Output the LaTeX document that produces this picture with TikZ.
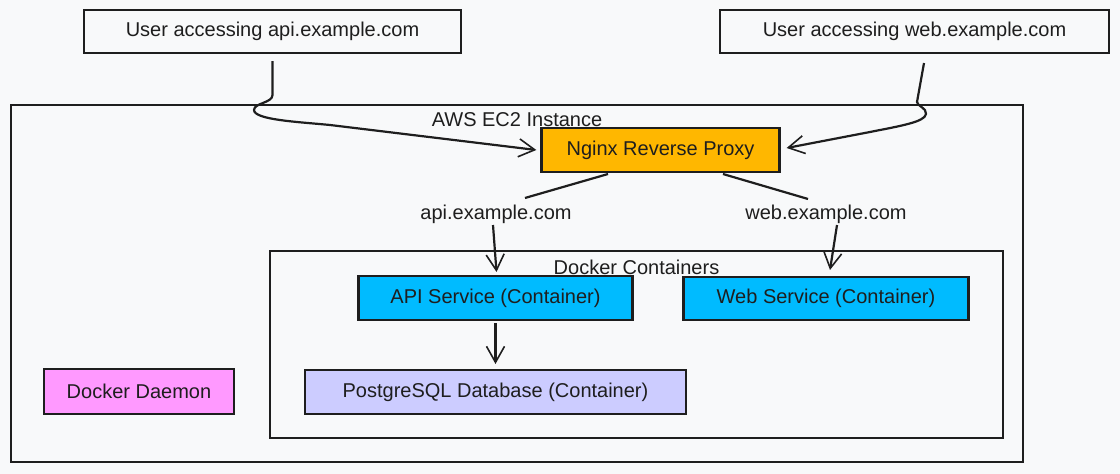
\documentclass[tikz,border=0pt]{standalone}
\usepackage{fontspec}
\setmainfont{Liberation Sans}
\usetikzlibrary{arrows.meta}
\definecolor{ink}{HTML}{1E1E1E}
\definecolor{bg}{HTML}{F8F9FA}
\definecolor{nginxc}{HTML}{FFB700}
\definecolor{svcc}{HTML}{00BBFF}
\definecolor{pgc}{HTML}{CCCCFF}
\definecolor{daemonc}{HTML}{FF99FF}
\newcommand{\fs}{\fontsize{20bp}{24bp}\selectfont}

\begin{document}
\begin{tikzpicture}[x=1bp,y=-1bp,
   box/.style={draw=ink,line width=2.2bp,rectangle,inner sep=0pt,text=ink,font=\fs},
   lbl/.style={inner sep=0pt,text=ink,font=\fs},
   arr/.style={draw=ink,line width=2.2bp,-{Straight Barb[length=16bp,width=18bp,line width=1.6bp]}}]
   \fill[bg] (0,0) rectangle (1120,474);
   \node[box,minimum width=1015,minimum height=359] (ec2) at (517,283.5) {};
   \node[lbl] (ec2lbl) at (517,120) {AWS EC2 Instance};
   \node[box,minimum width=735,minimum height=187] (docker) at (636.5,344.5) {};
   \node[lbl] (dockerlbl) at (636.5,267.5) {Docker Containers};
   \node[box,minimum width=379,minimum height=43] (apiuser) at (272.5,31.5) {User accessing api.example.com};
   \node[box,minimum width=391,minimum height=43] (webuser) at (914.5,31.5) {User accessing web.example.com};
   \node[box,fill=nginxc,minimum width=239,minimum height=44] (nginx) at (660.5,150) {Nginx Reverse Proxy};
   \node[lbl] (apilbl) at (496,214.5) {api.example.com};
   \node[lbl] (weblbl) at (826,214.5) {web.example.com};
   \node[box,fill=svcc,minimum width=275,minimum height=44] (api) at (495.5,298) {API Service (Container)};
   \node[box,fill=svcc,minimum width=286,minimum height=43] (web) at (826,298.5) {Web Service (Container)};
   \node[box,fill=pgc,minimum width=383,minimum height=44] (pg) at (495.5,392) {PostgreSQL Database (Container)};
   \node[box,fill=daemonc,minimum width=190,minimum height=45] (daemon) at (139,391.5) {Docker Daemon};
   \draw[arr] ([yshift=-7bp]apiuser.south) -- (272.5,95) .. controls (272.5,103) and (254,103) .. (254,110)
      .. controls (254,120) and (300,122) .. (330,125) -- ([xshift=-4bp]nginx.west);
   \draw[arr] ([xshift=9.5bp,yshift=-9bp]webuser.south) -- (917,102) .. controls (917,106) and (927,108) .. (926,114)
      .. controls (925,122) and (900,126) .. (870,132) -- ([xshift=6bp,yshift=2bp]nginx.east);
   \draw[draw=ink,line width=2.2bp] ([xshift=-52.5bp,yshift=-1bp]nginx.south) -- ([xshift=29bp,yshift=7bp]apilbl.north);
   \draw[draw=ink,line width=2.2bp] ([xshift=62.5bp,yshift=-1bp]nginx.south) -- ([xshift=-18bp,yshift=6bp]weblbl.north);
   \draw[arr] ([xshift=-3bp,yshift=-1bp]apilbl.south) -- ([xshift=1bp,yshift=3bp]api.north);
   \draw[arr] ([xshift=11bp,yshift=-1bp]weblbl.south) -- ([xshift=4bp,yshift=6bp]web.north);
   \draw[arr] ([yshift=-2bp]api.south) -- ([yshift=5bp]pg.north);
\end{tikzpicture}
\end{document}
